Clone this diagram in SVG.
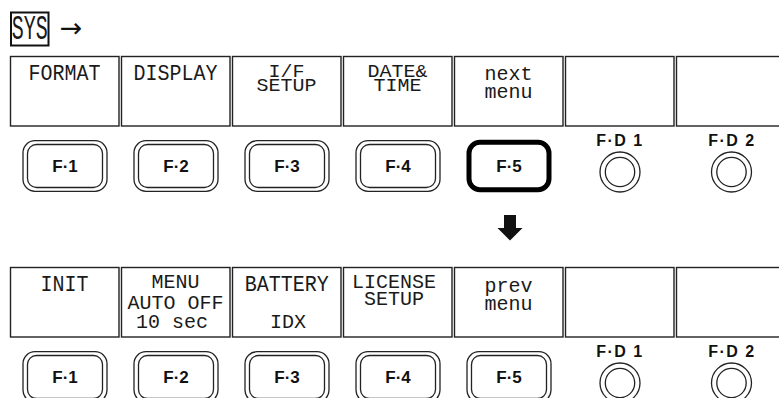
<svg xmlns="http://www.w3.org/2000/svg" width="779" height="398" viewBox="0 0 779 398">
<style>
.box{fill:#fff;stroke:#222;stroke-width:1.4}
.lbl{font-family:"Liberation Mono","DejaVu Sans Mono",monospace;font-size:20px;fill:#1a1a1a;text-anchor:middle}
.ln{fill:#fff;stroke:#222;stroke-width:1.3}
.hi{fill:#fff;stroke:#000;stroke-width:5}
.bt{font-family:"Liberation Sans",Arial,sans-serif;font-weight:bold;font-size:17px;fill:#111;text-anchor:middle}
.fd{font-family:"Liberation Sans",Arial,sans-serif;font-weight:bold;font-size:16px;fill:#111;text-anchor:middle;letter-spacing:1.5px}
</style>
<defs>
<g id="btn"><rect class="ln" x="-42" y="-25.3" width="84" height="50.6" rx="12"/><rect class="ln" x="-37.5" y="-21.5" width="75" height="43" rx="9"/></g>
<g id="btnhi"><rect class="hi" x="-40" y="-23.8" width="80" height="47.6" rx="11"/></g>
<g id="knob"><circle class="ln" r="20"/><circle class="ln" r="14.7"/></g>
</defs>
<rect width="779" height="398" fill="#fff"/>

<g id="sys">
<rect x="11" y="12.5" width="37.5" height="33" fill="#fff" stroke="#111" stroke-width="2"/>
<text class="lbl" font-size="19" transform="translate(29.8 39.3) scale(1 1.75)">SYS</text>
</g>

<g id="connectors">
<text x="71" y="37" font-family="DejaVu Sans,sans-serif" font-size="27" fill="#111" text-anchor="middle">→</text>
<polygon points="504,215 516,215 516,228 522.5,228 510,240.5 497.5,228 504,228" fill="#111"/>
</g>

<!-- top row menu -->
<g id="top-menu-1"><rect class="box" x="10.5" y="56.5" width="108.5" height="69.5"/><text class="lbl" transform="translate(64.5 79.5) scale(1 1.1)">FORMAT</text></g>
<g id="top-menu-2"><rect class="box" x="121.5" y="56.5" width="108.5" height="69.5"/><text class="lbl" transform="translate(175.5 79.5) scale(1 1.1)">DISPLAY</text></g>
<g id="top-menu-3"><rect class="box" x="232.5" y="56.5" width="108.5" height="69.5"/>
<text class="lbl" font-size="19" transform="translate(286.5 76.7) scale(1 0.88)">I/F</text>
<text class="lbl" font-size="19" transform="translate(286.5 90.7) scale(1 0.88)">SETUP</text></g>
<g id="top-menu-4"><rect class="box" x="343.5" y="56.5" width="108.5" height="69.5"/>
<text class="lbl" font-size="19" transform="translate(397.5 77.3) scale(1 0.88)">DATE&amp;</text>
<text class="lbl" font-size="19" transform="translate(397.5 90.7) scale(1 0.88)">TIME</text></g>
<g id="top-menu-5"><rect class="box" x="454.5" y="56.5" width="108.5" height="69.5"/>
<text class="lbl" transform="translate(508.5 80) scale(1 1.05)">next</text>
<text class="lbl" transform="translate(508.5 98.3) scale(1 1.05)">menu</text></g>
<g id="top-menu-6"><rect class="box" x="565.5" y="56.5" width="108.5" height="69.5"/></g>
<g id="top-menu-7"><rect class="box" x="676.5" y="56.5" width="108.5" height="69.5"/></g>

<!-- top row buttons -->
<g id="top-f1"><use href="#btn" x="65" y="166"/><text class="bt" x="65" y="172">F·1</text></g>
<g id="top-f2"><use href="#btn" x="176" y="166"/><text class="bt" x="176" y="172">F·2</text></g>
<g id="top-f3"><use href="#btn" x="287" y="166"/><text class="bt" x="287" y="172">F·3</text></g>
<g id="top-f4"><use href="#btn" x="398" y="166"/><text class="bt" x="398" y="172">F·4</text></g>
<g id="top-f5"><use href="#btnhi" x="509" y="166"/><text class="bt" x="509" y="172">F·5</text></g>
<g id="top-fd1"><text class="fd" x="620" y="146">F·D 1</text><use href="#knob" x="620" y="172"/></g>
<g id="top-fd2"><text class="fd" x="732" y="146">F·D 2</text><use href="#knob" x="731.5" y="172"/></g>

<!-- bottom row menu -->
<g id="bot-menu-1"><rect class="box" x="10.5" y="267.5" width="108.5" height="69.5"/><text class="lbl" transform="translate(64.5 290.5) scale(1 1.1)">INIT</text></g>
<g id="bot-menu-2"><rect class="box" x="121.5" y="267.5" width="108.5" height="69.5"/>
<text class="lbl" transform="translate(175.5 288.3) scale(1 0.97)">MENU</text>
<text class="lbl" transform="translate(175.5 309.3) scale(1 0.97)">AUTO OFF</text>
<text class="lbl" transform="translate(172 328.3) scale(1 0.97)">10 sec</text></g>
<g id="bot-menu-3"><rect class="box" x="232.5" y="267.5" width="108.5" height="69.5"/>
<text class="lbl" transform="translate(286.7 290.5) scale(1 1.1)">BATTERY</text>
<text class="lbl" transform="translate(288 328.3) scale(1 0.97)">IDX</text></g>
<g id="bot-menu-4"><rect class="box" x="343.5" y="267.5" width="108.5" height="69.5"/>
<text class="lbl" transform="translate(394 288.3) scale(1 0.97)">LICENSE</text>
<text class="lbl" transform="translate(394 305) scale(1 0.97)">SETUP</text></g>
<g id="bot-menu-5"><rect class="box" x="454.5" y="267.5" width="108.5" height="69.5"/>
<text class="lbl" transform="translate(508.5 291.5) scale(1 1.05)">prev</text>
<text class="lbl" transform="translate(508.5 309.5) scale(1 1.05)">menu</text></g>
<g id="bot-menu-6"><rect class="box" x="565.5" y="267.5" width="108.5" height="69.5"/></g>
<g id="bot-menu-7"><rect class="box" x="676.5" y="267.5" width="108.5" height="69.5"/></g>

<!-- bottom row buttons -->
<g id="bot-f1"><use href="#btn" x="65" y="377"/><text class="bt" x="65" y="383">F·1</text></g>
<g id="bot-f2"><use href="#btn" x="176" y="377"/><text class="bt" x="176" y="383">F·2</text></g>
<g id="bot-f3"><use href="#btn" x="287" y="377"/><text class="bt" x="287" y="383">F·3</text></g>
<g id="bot-f4"><use href="#btn" x="398" y="377"/><text class="bt" x="398" y="383">F·4</text></g>
<g id="bot-f5"><use href="#btn" x="509" y="377"/><text class="bt" x="509" y="383">F·5</text></g>
<g id="bot-fd1"><text class="fd" x="620" y="357">F·D 1</text><use href="#knob" x="620" y="383"/></g>
<g id="bot-fd2"><text class="fd" x="732" y="357">F·D 2</text><use href="#knob" x="731.5" y="383"/></g>
</svg>
